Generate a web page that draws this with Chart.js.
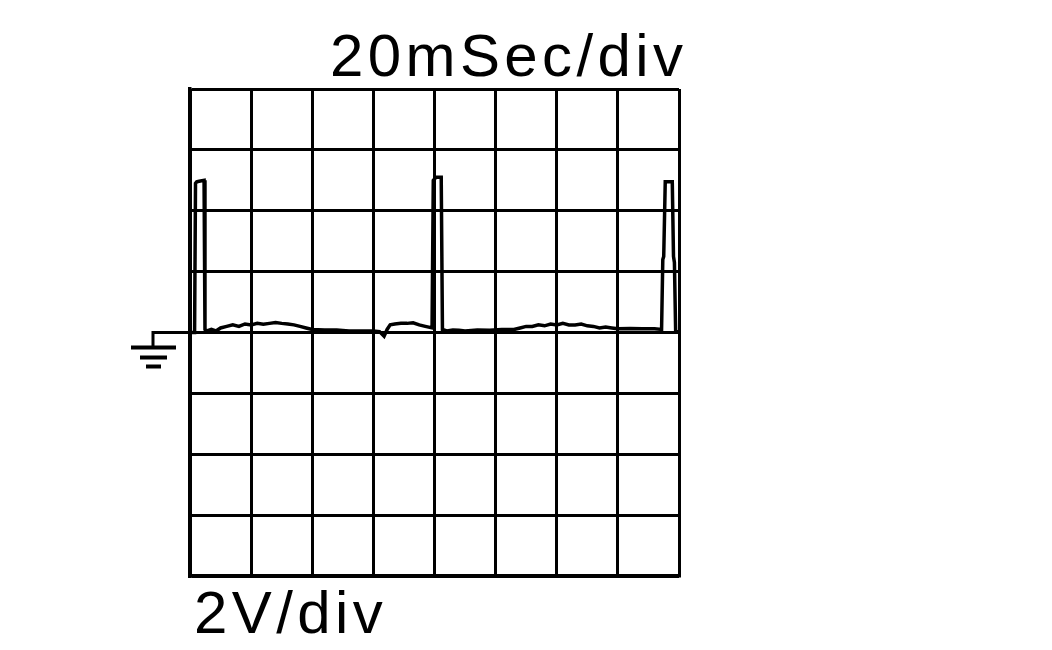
<!DOCTYPE html>
<html>
<head>
<meta charset="utf-8">
<title>Scope trace</title>
<script src="https://cdn.jsdelivr.net/npm/chart.js@4/dist/chart.umd.min.js"></script>
<style>
    html, body { margin: 0; padding: 0; background: #fff; }
    #wrap { width: 1052px; height: 650px; position: relative; }
</style>
</head>
<body>
<div id="wrap"><canvas id="scopeChart"></canvas></div>
<script>
// Trace: time in ms, voltage in V
const timeMs = [
    0, 1.5, 1.8, 2.2, 3.0, 4.6, 4.9, 5.5, 7.0, 8.5,
    10, 12, 14, 16, 18, 20, 22, 24, 26, 28,
    30, 32, 34, 36, 38, 40, 44, 48, 52, 56,
    60, 62, 63.5, 64.5, 65.5, 67, 69, 71, 73, 75,
    77, 79.2, 79.6, 80.5, 82.2, 82.6, 84, 86, 88, 90,
    94, 98, 102, 106, 108, 110, 112, 114, 116, 118,
    120, 122, 124, 126, 128, 130, 132, 134, 136, 138,
    140, 144, 148, 152, 154.3, 154.7, 155.0, 155.5, 157.8, 158.2,
    158.5, 158.9, 160
];
const volts = [
    0, 0, 4.9, 4.95, 4.97, 5.0, 0.1, 0.05, 0.1, 0.05,
    0.15, 0.2, 0.25, 0.2, 0.28, 0.25, 0.3, 0.27, 0.3, 0.33,
    0.3, 0.28, 0.25, 0.2, 0.15, 0.1, 0.08, 0.08, 0.05, 0.05,
    0.05, 0.03, -0.12, 0.1, 0.25, 0.28, 0.3, 0.3, 0.32, 0.25,
    0.2, 0.15, 5.0, 5.1, 5.1, 0.1, 0.05, 0.08, 0.07, 0.05,
    0.08, 0.07, 0.1, 0.1, 0.15, 0.2, 0.2, 0.25, 0.22, 0.28,
    0.25, 0.3, 0.25, 0.25, 0.28, 0.22, 0.2, 0.15, 0.18, 0.15,
    0.12, 0.13, 0.12, 0.12, 0.1, 2.4, 2.5, 4.95, 4.95, 2.5,
    2.3, 0.05, 0
];

// Screen divisions
const timeTicks = [0, 20, 40, 60, 80, 100, 120, 140, 160];
const voltTicks = [-8, -6, -4, -2, 0, 2, 4, 6, 8];
const timeLabel = '20mSec/div';
const voltLabel = '2V/div';

// Ground marker + scale labels drawn on top
const scopeDecor = {
    id: 'scopeDecor',
    afterDraw(chart) {
        const ctx = chart.ctx;
        const area = chart.chartArea;
        const zeroY = chart.scales.y.getPixelForValue(0);

        ctx.save();
        ctx.strokeStyle = '#000';
        ctx.lineWidth = 3;
        ctx.lineCap = 'butt';

        // ground symbol at 0 V
        ctx.beginPath();
        ctx.moveTo(area.left, zeroY);
        ctx.lineTo(153, zeroY);
        ctx.lineTo(153, zeroY + 15);
        ctx.stroke();

        ctx.lineWidth = 4;
        [[131, 176, 15], [140, 167, 25], [146, 161, 34]].forEach(function(b) {
            ctx.beginPath();
            ctx.moveTo(b[0], zeroY + b[2]);
            ctx.lineTo(b[1], zeroY + b[2]);
            ctx.stroke();
        });

        // scale labels
        ctx.fillStyle = '#000';
        ctx.font = '60px "Liberation Sans", Arial, sans-serif';
        ctx.letterSpacing = '4.4px';
        ctx.textAlign = 'left';
        ctx.textBaseline = 'alphabetic';
        ctx.fillText(timeLabel, 330, 76);
        ctx.fillText(voltLabel, 194, 633);
        ctx.restore();
    }
};

document.addEventListener('DOMContentLoaded', function() {
    const ctx = document.getElementById('scopeChart');
    const points = timeMs.map(function(t, i) {
        return { x: t, y: volts[i] };
    });

    new Chart(ctx, {
        type: 'line',
        data: {
            datasets: [{
                data: points,
                borderColor: '#000',
                borderWidth: 3.5,
                pointRadius: 0,
                tension: 0,
                fill: false
            }]
        },
        options: {
            responsive: true,
            maintainAspectRatio: false,
            animation: false,
            events: [],
            layout: {
                padding: { left: 190, right: 373, top: 89, bottom: 74 }
            },
            plugins: {
                legend: { display: false },
                tooltip: { enabled: false }
            },
            scales: {
                x: {
                    type: 'linear',
                    min: 0,
                    max: 160,
                    afterBuildTicks: function(axis) {
                        axis.ticks = timeTicks.map(function(v) { return { value: v }; });
                    },
                    ticks: { display: false },
                    grid: {
                        color: '#000',
                        lineWidth: 3,
                        drawTicks: false
                    },
                    border: { color: '#000', width: 3.5 }
                },
                y: {
                    type: 'linear',
                    min: -8,
                    max: 8,
                    afterBuildTicks: function(axis) {
                        axis.ticks = voltTicks.map(function(v) { return { value: v }; });
                    },
                    ticks: { display: false },
                    grid: {
                        color: '#000',
                        lineWidth: 3,
                        drawTicks: false
                    },
                    border: { color: '#000', width: 3.5 }
                }
            }
        },
        plugins: [scopeDecor]
    });
});
</script>
</body>
</html>
